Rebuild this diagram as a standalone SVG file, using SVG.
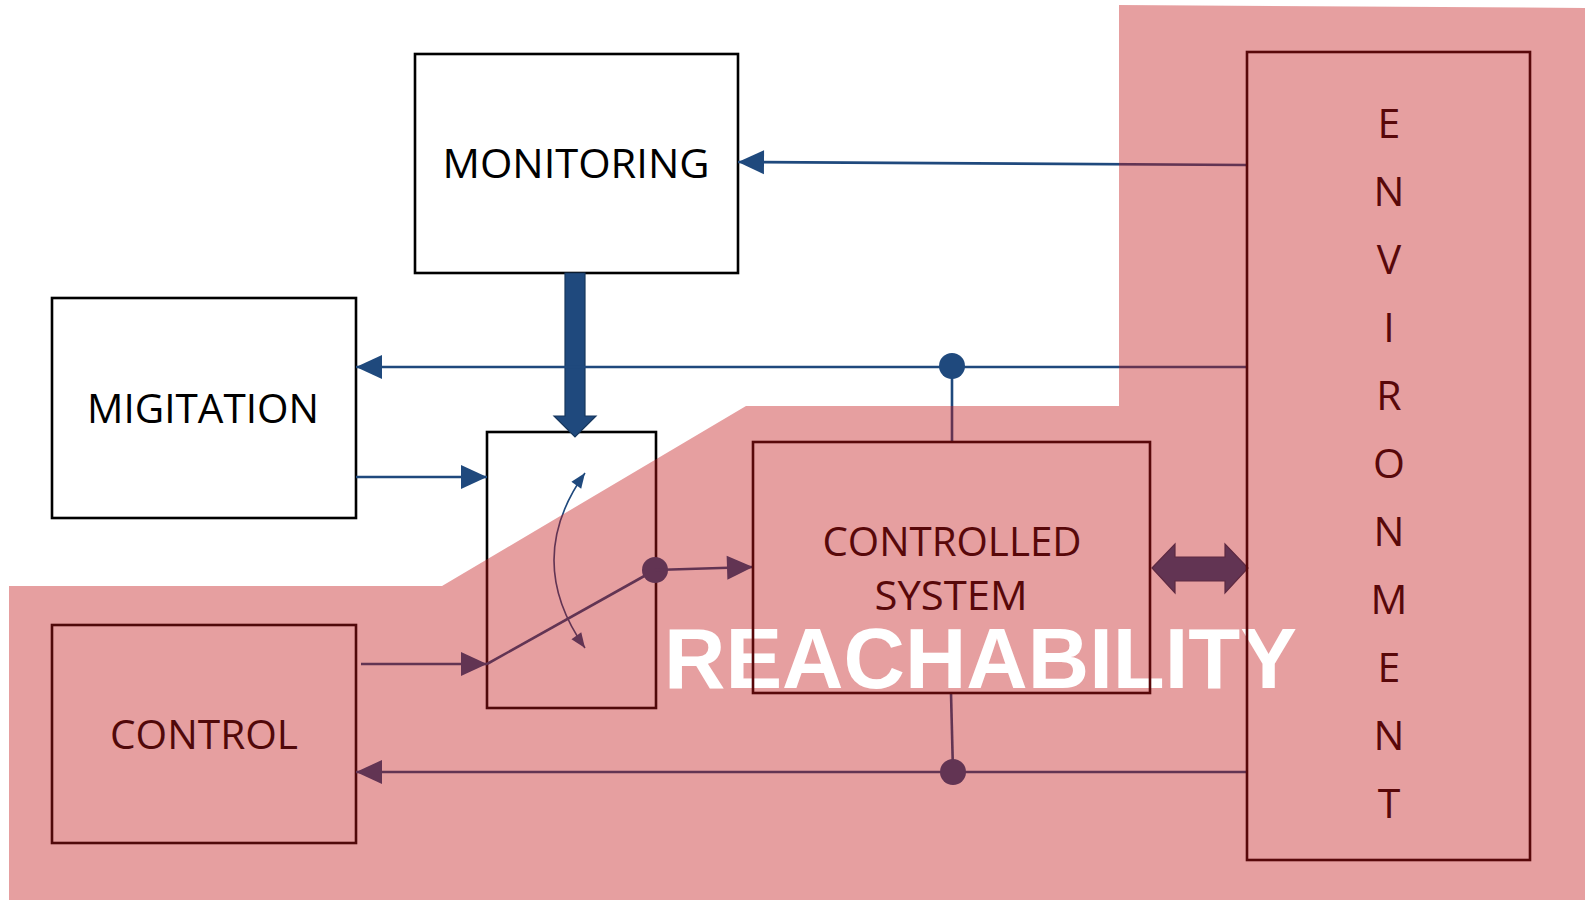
<svg xmlns="http://www.w3.org/2000/svg" width="1585" height="900" viewBox="0 0 1585 900">
  <style>
    .box { fill: #ffffff; stroke: #000000; stroke-width: 2.6; }
    .box-in { fill: none; stroke: #58080a; stroke-width: 2.6; }
    .lbl { font-family: "Open Sans", "Noto Sans", sans-serif; font-size: 41px; fill: #000000; text-anchor: middle; }
    .lbl-in { font-family: "Open Sans", "Noto Sans", sans-serif; font-size: 41px; fill: #58080a; text-anchor: middle; }
    .wire { fill: none; stroke: #1f497d; stroke-width: 2.6; }
    .thin { fill: none; stroke: #1f497d; stroke-width: 1.6; }
    .dot { fill: #1f497d; }
    .big { font-family: "Liberation Sans", Arial, sans-serif; font-weight: bold; font-size: 85px; fill: #ffffff; }
  </style>
  <defs>
    <marker id="head" markerUnits="userSpaceOnUse" markerWidth="30" markerHeight="30" refX="26" refY="0" orient="auto" overflow="visible">
      <path d="M0,-12 L26,0 L0,12 z" fill="#1f497d"/>
    </marker>
    <marker id="head-sm" markerUnits="userSpaceOnUse" markerWidth="20" markerHeight="20" refX="15" refY="0" orient="auto-start-reverse" overflow="visible">
      <path d="M0,-6 L15,0 L0,6 z" fill="#1f497d"/>
    </marker>
  </defs>

  <!-- blocks outside / across the reachable area -->
  <g id="monitoring">
    <rect class="box" x="415" y="54" width="323" height="219"/>
    <text class="lbl" x="576" y="178" textLength="267" lengthAdjust="spacingAndGlyphs">MONITORING</text>
  </g>
  <g id="migitation">
    <rect class="box" x="52" y="298" width="304" height="220"/>
    <text class="lbl" x="203" y="423" textLength="232" lengthAdjust="spacingAndGlyphs">MIGITATION</text>
  </g>
  <g id="switch">
    <rect class="box" x="487" y="432" width="169" height="276"/>
  </g>
  <g id="control">
    <rect class="box" x="52" y="625" width="304" height="218"/>
    <text class="lbl" x="204" y="749" textLength="188" lengthAdjust="spacingAndGlyphs">CONTROL</text>
  </g>

  <!-- connectors -->
  <g id="connectors">
    <!-- environment to monitoring -->
    <line class="wire" x1="1247" y1="165" x2="738" y2="162" marker-end="url(#head)"/>
    <!-- monitoring to switch (wide arrow) -->
    <polygon points="565,273 585,273 585,416 596,416 575,437 554,416 565,416" fill="#1f497d" stroke="#17375e" stroke-width="1.2"/>
    <!-- environment to migitation, tapped by the controlled system -->
    <line class="wire" x1="1247" y1="367" x2="356" y2="367" marker-end="url(#head)"/>
    <line class="wire" x1="952" y1="366" x2="952" y2="442"/>
    <circle class="dot" cx="952" cy="366" r="13"/>
    <!-- migitation to switch -->
    <line class="wire" x1="356" y1="477" x2="487" y2="477" marker-end="url(#head)"/>
    <!-- control to switch -->
    <line class="wire" x1="361" y1="664" x2="487" y2="664" marker-end="url(#head)"/>
    <!-- switch lever and output -->
    <line class="wire" x1="487" y1="664" x2="655" y2="570"/>
    <circle class="dot" cx="655" cy="570" r="13"/>
    <line class="wire" x1="655" y1="570" x2="753" y2="567" marker-end="url(#head)"/>
    <!-- toggle between positions -->
    <path class="thin" d="M585,473 Q523,560 585,648" marker-start="url(#head-sm)" marker-end="url(#head-sm)"/>
    <!-- controlled system / environment to control -->
    <line class="wire" x1="951" y1="693" x2="953" y2="772"/>
    <line class="wire" x1="1247" y1="772" x2="356" y2="772" marker-end="url(#head)"/>
    <circle class="dot" cx="953" cy="772" r="13"/>
    <!-- controlled system to environment exchange -->
    <polygon points="1152,568 1175,544 1175,557 1225,557 1225,544 1248,568 1225,593 1225,581 1175,581 1175,593" fill="#1f497d" stroke="#17375e" stroke-width="1.2"/>
  </g>

  <!-- reachable area -->
  <polygon id="reachability-area" points="9,586 442,586 746,406 1119,406 1119,5 1585,8 1585,900 9,900" fill="#c31618" fill-opacity="0.41"/>
  <text class="big" x="664" y="688" textLength="633" lengthAdjust="spacingAndGlyphs">REACHABILITY</text>

  <!-- blocks inside the reachable area -->
  <g id="controlled-system">
    <rect class="box-in" x="753" y="442" width="397" height="251"/>
    <text class="lbl-in" x="952" y="556" textLength="259" lengthAdjust="spacingAndGlyphs">CONTROLLED</text>
    <text class="lbl-in" x="951" y="610" textLength="153" lengthAdjust="spacingAndGlyphs">SYSTEM</text>
  </g>
  <g id="environment">
    <rect class="box-in" x="1247" y="52" width="283" height="808"/>
    <text class="lbl-in" x="1389" y="138">E</text>
    <text class="lbl-in" x="1389" y="206">N</text>
    <text class="lbl-in" x="1389" y="274">V</text>
    <text class="lbl-in" x="1389" y="342">I</text>
    <text class="lbl-in" x="1389" y="410">R</text>
    <text class="lbl-in" x="1389" y="478">O</text>
    <text class="lbl-in" x="1389" y="546">N</text>
    <text class="lbl-in" x="1389" y="614">M</text>
    <text class="lbl-in" x="1389" y="682">E</text>
    <text class="lbl-in" x="1389" y="750">N</text>
    <text class="lbl-in" x="1389" y="818">T</text>
  </g>
</svg>
